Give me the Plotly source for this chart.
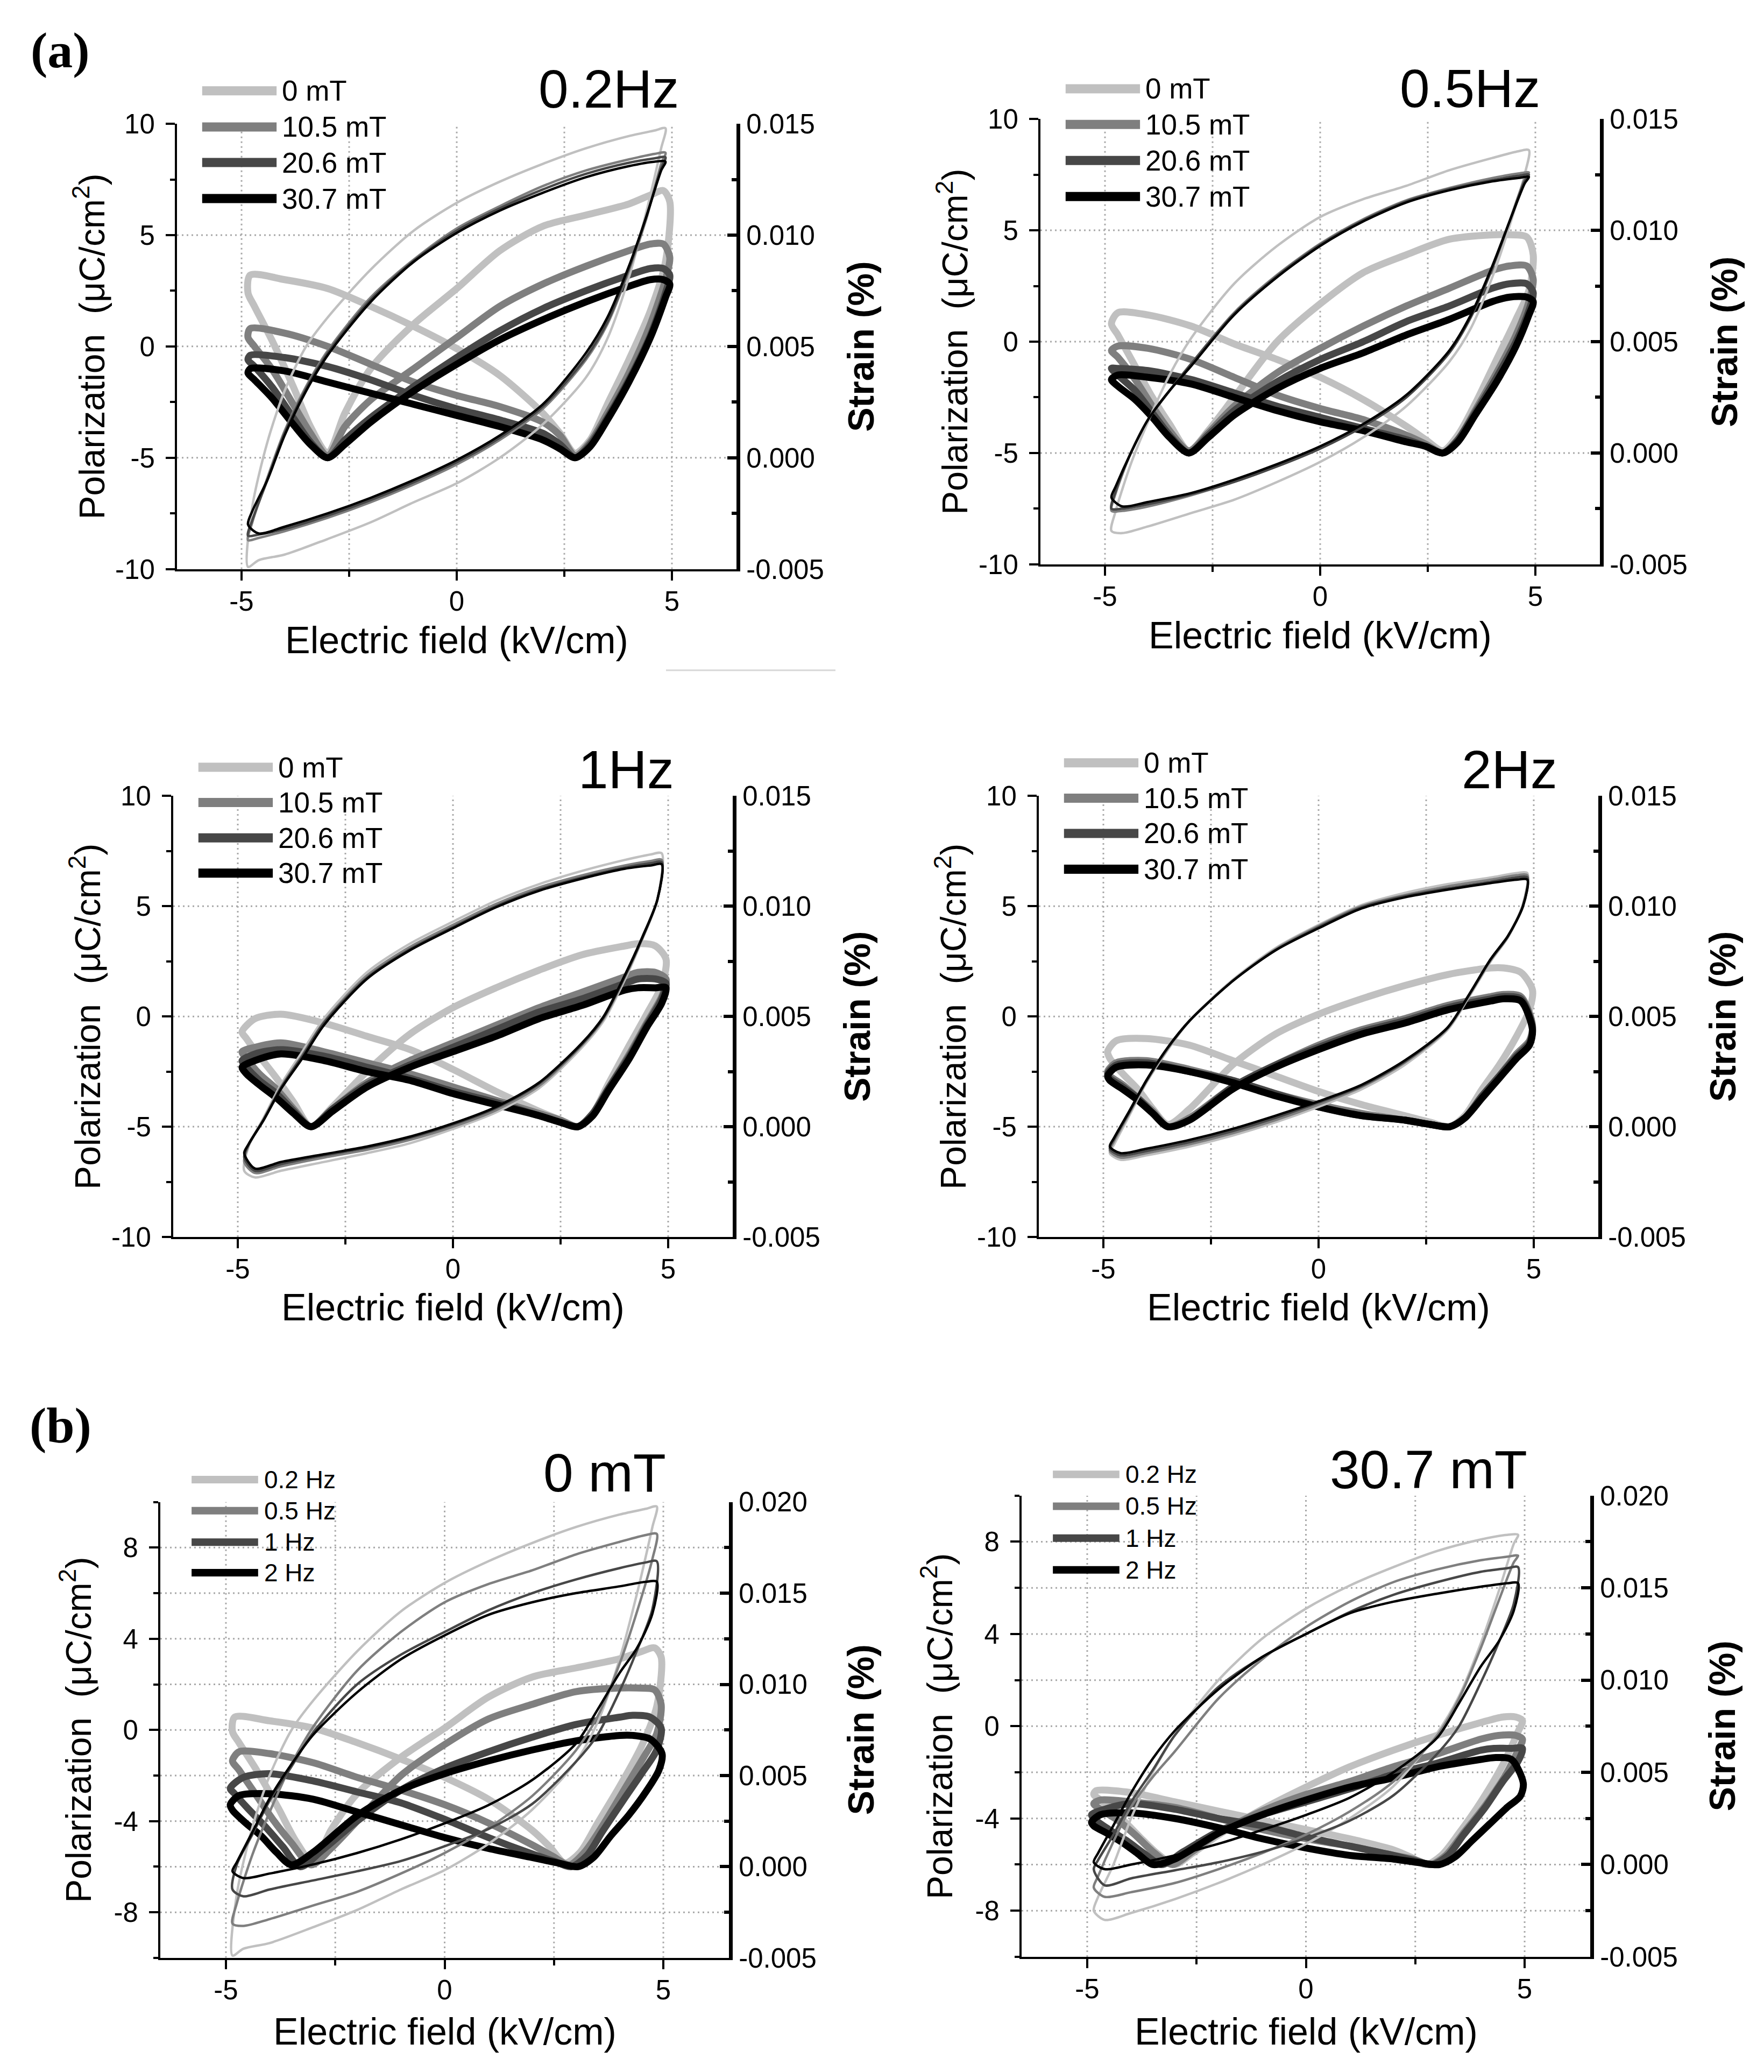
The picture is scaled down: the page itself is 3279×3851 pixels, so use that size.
"""P-E loops and strain butterflies: (a) by magnetic field at each frequency, (b) by frequency at 0 and 30.7 mT."""

import plotly.graph_objects as go

W, H = 3279, 3851

# ---------- data ----------
FIELDS = ["0 mT", "10.5 mT", "20.6 mT", "30.7 mT"]
FREQS = ["0.2 Hz", "0.5 Hz", "1 Hz", "2 Hz"]
GRAYS = ["#c0c0c0", "#7f7f7f", "#474747", "#000000"]

# P-E loops: lower branch (-E -> +E) then upper branch (+E -> -E)
E_PE = [-4.85, -4.6, -4, -3, -2, -1, 0, 1, 2, 3, 3.5, 4, 4.4, 4.75,
        4.85, 4.6, 4, 3, 2, 1, 0, -1, -2, -3, -3.5, -4, -4.4, -4.75]

PE_02HZ = {
    "0 mT":    [-9.9, -9.6, -9.35, -8.65, -7.9, -7.0, -6.15, -5.0, -3.5, -1.4, 0.35, 3.1, 6.0, 8.9,
                9.8, 9.7, 9.45, 8.9, 8.2, 7.4, 6.45, 5.2, 3.45, 1.3, 0.0, -2.0, -4.3, -7.2],
    "10.5 mT": [-8.7, -8.6, -8.3, -7.7, -7.0, -6.2, -5.3, -4.2, -2.8, -0.6, 1.0, 3.4, 5.7, 8.2,
                8.7, 8.65, 8.4, 7.9, 7.2, 6.3, 5.3, 3.9, 2.2, -0.2, -1.8, -3.8, -5.9, -7.9],
    "20.6 mT": [-8.5, -8.45, -8.2, -7.6, -6.9, -6.1, -5.2, -4.1, -2.7, -0.5, 1.1, 3.5, 5.8, 8.0,
                8.5, 8.45, 8.25, 7.75, 7.05, 6.2, 5.2, 3.85, 2.1, -0.3, -1.9, -3.9, -6.0, -7.8],
    "30.7 mT": [-8.0, -8.4, -8.1, -7.5, -6.8, -6.0, -5.1, -4.0, -2.6, -0.3, 1.3, 3.6, 5.8, 7.9,
                8.3, 8.3, 8.1, 7.6, 6.9, 6.1, 5.1, 3.8, 2.0, -0.4, -2.0, -4.0, -6.0, -7.4],
}
PE_05HZ = {
    "0 mT":    [-8.5, -8.6, -8.3, -7.7, -7.1, -6.3, -5.4, -4.3, -2.9, -0.9, 0.6, 2.9, 5.2, 7.5,
                8.6, 8.55, 8.25, 7.7, 7.0, 6.4, 5.6, 4.3, 2.6, 0.15, -1.5, -3.6, -5.5, -7.6],
    "10.5 mT": [-7.6, -7.6, -7.4, -6.9, -6.3, -5.6, -4.8, -3.8, -2.5, -0.5, 1.1, 3.3, 5.4, 7.3,
                7.6, 7.55, 7.35, 6.9, 6.35, 5.5, 4.4, 3.0, 1.3, -1.0, -2.2, -3.5, -5.0, -6.8],
    "20.6 mT": [-7.5, -7.5, -7.3, -6.85, -6.3, -5.6, -4.8, -3.8, -2.5, -0.5, 1.1, 3.3, 5.4, 7.2,
                7.5, 7.45, 7.25, 6.85, 6.3, 5.45, 4.35, 2.95, 1.25, -1.0, -2.2, -3.5, -5.0, -6.7],
    "30.7 mT": [-7.0, -7.4, -7.2, -6.8, -6.2, -5.5, -4.7, -3.7, -2.4, -0.4, 1.2, 3.4, 5.4, 7.1,
                7.4, 7.35, 7.2, 6.8, 6.25, 5.4, 4.3, 2.9, 1.2, -1.1, -2.2, -3.5, -5.0, -6.5],
}
PE_1HZ = {
    "0 mT":    [-7.0, -7.3, -7.0, -6.6, -6.2, -5.75, -5.1, -4.35, -3.25, -1.4, -0.2, 1.7, 3.5, 5.3,
                7.4, 7.35, 7.1, 6.6, 6.0, 5.25, 4.3, 3.3, 2.0, -0.1, -1.6, -3.1, -4.6, -5.9],
    "10.5 mT": [-6.6, -7.1, -6.8, -6.4, -6.05, -5.6, -5.0, -4.25, -3.15, -1.3, -0.1, 1.8, 3.55, 5.3,
                7.1, 7.05, 6.85, 6.4, 5.85, 5.1, 4.15, 3.15, 1.85, -0.25, -1.75, -3.2, -4.65, -5.85],
    "20.6 mT": [-6.4, -7.0, -6.7, -6.3, -5.95, -5.5, -4.9, -4.15, -3.05, -1.25, -0.05, 1.85, 3.55, 5.3,
                7.0, 6.95, 6.75, 6.3, 5.75, 5.0, 4.05, 3.05, 1.75, -0.3, -1.8, -3.25, -4.7, -5.8],
    "30.7 mT": [-6.2, -6.9, -6.6, -6.25, -5.9, -5.45, -4.85, -4.1, -3.0, -1.2, 0.0, 1.9, 3.6, 5.3,
                6.9, 6.85, 6.7, 6.25, 5.7, 4.95, 4.0, 3.0, 1.7, -0.4, -1.9, -3.3, -4.7, -5.8],
}
PE_2HZ = {
    "0 mT":    [-6.2, -6.5, -6.3, -5.9, -5.4, -4.8, -4.1, -3.3, -2.2, -0.6, 0.9, 2.5, 3.6, 5.1,
                6.5, 6.5, 6.3, 6.0, 5.6, 5.05, 4.15, 3.1, 1.65, -0.2, -1.5, -3.0, -4.5, -5.8],
    "10.5 mT": [-6.1, -6.4, -6.2, -5.8, -5.3, -4.7, -4.0, -3.2, -2.1, -0.55, 0.95, 2.55, 3.6, 5.05,
                6.4, 6.4, 6.2, 5.9, 5.5, 5.0, 4.1, 3.05, 1.6, -0.2, -1.45, -2.95, -4.4, -5.65],
    "20.6 mT": [-6.0, -6.3, -6.1, -5.7, -5.2, -4.6, -3.9, -3.15, -2.05, -0.5, 1.0, 2.6, 3.65, 5.0,
                6.3, 6.3, 6.1, 5.8, 5.45, 4.95, 4.05, 3.0, 1.6, -0.2, -1.4, -2.9, -4.35, -5.55],
    "30.7 mT": [-5.9, -6.2, -6.0, -5.6, -5.1, -4.5, -3.85, -3.1, -2.0, -0.5, 1.0, 2.6, 3.65, 5.0,
                6.2, 6.2, 6.05, 5.75, 5.4, 4.9, 4.0, 3.0, 1.6, -0.2, -1.4, -2.9, -4.3, -5.5],
}

# strain butterflies: rising-E branch then falling-E branch, strain in %
E_S_02HZ = [-4.8, -4, -3, -2, -1, 0, 1, 2, 2.4, 2.75, 3.1, 3.5, 4, 4.5, 4.85, 4.95,
            4.8, 4.5, 4, 3, 2, 1, 0, -1, -2, -2.6, -3, -3.4, -3.8, -4.3, -4.7, -4.85]
S_02HZ = {
    "0 mT":    [0.0082, 0.0080, 0.0076, 0.0068, 0.0059, 0.0049, 0.0037, 0.0020, 0.0011, 0.0002, 0.0008, 0.0024, 0.0044, 0.0066, 0.0088, 0.0115,
                0.0120, 0.0118, 0.0114, 0.0109, 0.0104, 0.0093, 0.0076, 0.0060, 0.0040, 0.0020, 0.0002, 0.0014, 0.0032, 0.0053, 0.0068, 0.0074],
    "10.5 mT": [0.0058, 0.0056, 0.0050, 0.0042, 0.0034, 0.0028, 0.0023, 0.0016, 0.0010, 0.0001, 0.0007, 0.0020, 0.0038, 0.0060, 0.0080, 0.0090,
                0.0096, 0.0096, 0.0093, 0.0086, 0.0078, 0.0068, 0.0054, 0.0040, 0.0026, 0.0014, 0.0001, 0.0011, 0.0024, 0.0040, 0.0050, 0.0054],
    "20.6 mT": [0.0046, 0.0045, 0.0041, 0.0035, 0.0028, 0.0022, 0.0017, 0.0011, 0.0006, 0.0000, 0.0006, 0.0018, 0.0035, 0.0055, 0.0074, 0.0082,
                0.0085, 0.0085, 0.0082, 0.0075, 0.0067, 0.0057, 0.0045, 0.0032, 0.0018, 0.0008, 0.0000, 0.0007, 0.0018, 0.0032, 0.0041, 0.0044],
    "30.7 mT": [0.0040, 0.0039, 0.0034, 0.0029, 0.0024, 0.0019, 0.0014, 0.0008, 0.0004, 0.0000, 0.0005, 0.0017, 0.0034, 0.0054, 0.0072, 0.0078,
                0.0080, 0.0080, 0.0077, 0.0070, 0.0062, 0.0053, 0.0042, 0.0030, 0.0016, 0.0006, 0.0000, 0.0006, 0.0015, 0.0027, 0.0035, 0.0038],
}
E_S_05HZ = [-4.7, -4, -3, -2, -1, 0, 1, 2, 2.45, 2.85, 3.2, 3.6, 4.1, 4.55, 4.85, 4.95,
            4.8, 4.4, 4, 3, 2, 1, 0, -1, -2, -2.6, -3.05, -3.5, -3.9, -4.3, -4.7, -4.85]
S_05HZ = {
    "0 mT":    [0.0063, 0.0062, 0.0057, 0.0049, 0.0042, 0.0034, 0.0024, 0.0012, 0.0006, 0.0001, 0.0008, 0.0022, 0.0042, 0.0060, 0.0073, 0.0089,
                0.0097, 0.0098, 0.0098, 0.0096, 0.0089, 0.0081, 0.0067, 0.0050, 0.0025, 0.0010, 0.0001, 0.0013, 0.0025, 0.0039, 0.0053, 0.0058],
    "10.5 mT": [0.0048, 0.0047, 0.0042, 0.0034, 0.0026, 0.0020, 0.0015, 0.0008, 0.0004, 0.0000, 0.0006, 0.0019, 0.0036, 0.0053, 0.0068, 0.0078,
                0.0084, 0.0084, 0.0082, 0.0074, 0.0066, 0.0057, 0.0047, 0.0036, 0.0021, 0.0009, 0.0001, 0.0010, 0.0021, 0.0033, 0.0043, 0.0046],
    "20.6 mT": [0.0038, 0.0037, 0.0033, 0.0027, 0.0021, 0.0016, 0.0011, 0.0006, 0.0003, 0.0000, 0.0006, 0.0018, 0.0034, 0.0050, 0.0064, 0.0072,
                0.0076, 0.0076, 0.0074, 0.0066, 0.0059, 0.0050, 0.0042, 0.0032, 0.0019, 0.0008, 0.0000, 0.0008, 0.0018, 0.0028, 0.0035, 0.0038],
    "30.7 mT": [0.0035, 0.0034, 0.0031, 0.0025, 0.0019, 0.0014, 0.0010, 0.0005, 0.0003, 0.0000, 0.0005, 0.0017, 0.0032, 0.0048, 0.0062, 0.0068,
                0.0070, 0.0070, 0.0068, 0.0060, 0.0053, 0.0045, 0.0038, 0.0029, 0.0017, 0.0007, 0.0000, 0.0007, 0.0016, 0.0024, 0.0030, 0.0033],
}
E_S_1HZ = [-4.6, -4, -3, -2, -1, 0, 1, 2, 2.5, 2.9, 3.25, 3.6, 4.1, 4.5, 4.85, 4.95,
           4.7, 4.3, 4, 3, 2, 1, 0, -1, -2, -2.8, -3.3, -3.7, -4.1, -4.5, -4.8, -4.9]
S_1HZ = {
    "0 mT":    [0.0049, 0.0051, 0.0047, 0.0041, 0.0035, 0.0026, 0.0016, 0.0007, 0.0003, 0.0000, 0.0006, 0.0019, 0.0037, 0.0051, 0.0064, 0.0076,
                0.0082, 0.0083, 0.0082, 0.0078, 0.0071, 0.0063, 0.0054, 0.0042, 0.0025, 0.0009, 0.0000, 0.0011, 0.0022, 0.0032, 0.0040, 0.0043],
    "10.5 mT": [0.0036, 0.0038, 0.0034, 0.0029, 0.0024, 0.0018, 0.0012, 0.0006, 0.0003, 0.0000, 0.0006, 0.0017, 0.0033, 0.0047, 0.0059, 0.0067,
                0.0070, 0.0070, 0.0068, 0.0061, 0.0054, 0.0046, 0.0038, 0.0030, 0.0020, 0.0008, 0.0000, 0.0008, 0.0017, 0.0024, 0.0031, 0.0034],
    "20.6 mT": [0.0033, 0.0035, 0.0032, 0.0027, 0.0022, 0.0016, 0.0011, 0.0005, 0.0002, 0.0000, 0.0006, 0.0017, 0.0032, 0.0046, 0.0058, 0.0065,
                0.0067, 0.0067, 0.0065, 0.0058, 0.0052, 0.0044, 0.0036, 0.0028, 0.0019, 0.0008, 0.0000, 0.0007, 0.0015, 0.0021, 0.0027, 0.0030],
    "30.7 mT": [0.0030, 0.0033, 0.0030, 0.0025, 0.0021, 0.0015, 0.0010, 0.0005, 0.0002, 0.0000, 0.0005, 0.0016, 0.0031, 0.0045, 0.0056, 0.0063,
                0.0063, 0.0063, 0.0062, 0.0055, 0.0049, 0.0041, 0.0034, 0.0027, 0.0018, 0.0007, 0.0000, 0.0006, 0.0013, 0.0019, 0.0024, 0.0027],
}
E_S_2HZ = [-4.7, -4, -3, -2, -1, 0, 1, 2, 2.6, 3.05, 3.4, 3.8, 4.2, 4.6, 4.9, 4.97,
           4.7, 4.3, 4, 3, 2, 1, 0, -1, -2, -3, -3.5, -3.85, -4.2, -4.55, -4.85, -4.9]
S_2HZ = {
    "0 mT":    [0.0039, 0.0040, 0.0037, 0.0030, 0.0023, 0.0016, 0.0010, 0.0005, 0.0002, 0.0000, 0.0005, 0.0017, 0.0028, 0.0041, 0.0053, 0.0062,
                0.0070, 0.0072, 0.0072, 0.0069, 0.0064, 0.0058, 0.0051, 0.0042, 0.0028, 0.0008, 0.0001, 0.0008, 0.0017, 0.0024, 0.0031, 0.0034],
    "10.5 mT": [0.0029, 0.0030, 0.0026, 0.0021, 0.0015, 0.0010, 0.0006, 0.0003, 0.0001, 0.0000, 0.0004, 0.0014, 0.0023, 0.0033, 0.0039, 0.0046,
                0.0059, 0.0060, 0.0059, 0.0055, 0.0049, 0.0044, 0.0037, 0.0028, 0.0018, 0.0004, 0.0000, 0.0007, 0.0013, 0.0019, 0.0023, 0.0025],
    "20.6 mT": [0.0028, 0.0029, 0.0025, 0.0021, 0.0015, 0.0009, 0.0005, 0.0003, 0.0001, 0.0000, 0.0004, 0.0014, 0.0023, 0.0032, 0.0038, 0.0045,
                0.0058, 0.0059, 0.0058, 0.0054, 0.0048, 0.0043, 0.0036, 0.0028, 0.0018, 0.0003, 0.0000, 0.0006, 0.0013, 0.0018, 0.0022, 0.0024],
    "30.7 mT": [0.0027, 0.0028, 0.0025, 0.0020, 0.0014, 0.0009, 0.0005, 0.0003, 0.0001, 0.0000, 0.0004, 0.0013, 0.0022, 0.0031, 0.0037, 0.0044,
                0.0057, 0.0058, 0.0057, 0.0053, 0.0047, 0.0042, 0.0035, 0.0027, 0.0017, 0.0003, 0.0000, 0.0006, 0.0012, 0.0017, 0.0021, 0.0023],
}

PE_SETS = [PE_02HZ, PE_05HZ, PE_1HZ, PE_2HZ]
S_SETS = [(E_S_02HZ, S_02HZ), (E_S_05HZ, S_05HZ), (E_S_1HZ, S_1HZ), (E_S_2HZ, S_2HZ)]

# ticks
X_RANGE = [-6.5, 6.5]
X_TICKS, X_TEXT, X_MINOR = [-5, 0, 5], ["-5", "0", "5"], [-2.5, 2.5]
X_GRID = [-5, -2.5, 0, 2.5, 5]
P_TICKS_A, P_TEXT_A = [-10, -5, 0, 5, 10], ["-10", "-5", "0", "5", "10"]
P_MINOR_A = [-7.5, -2.5, 2.5, 7.5]
S_TICKS_A = [-0.005, 0.0, 0.005, 0.010, 0.015]
S_TEXT_A = ["-0.005", "0.000", "0.005", "0.010", "0.015"]
S_MINOR_A = [-0.0025, 0.0025, 0.0075, 0.0125]
P_TICKS_B, P_TEXT_B = [-8, -4, 0, 4, 8], ["-8", "-4", "0", "4", "8"]
P_MINOR_B = [-10, -6, -2, 2, 6, 10]
S_TICKS_B = [-0.005, 0.0, 0.005, 0.010, 0.015, 0.020]
S_TEXT_B = ["-0.005", "0.000", "0.005", "0.010", "0.015", "0.020"]
S_MINOR_B = [-0.0025, 0.0025, 0.0075, 0.0125, 0.0175]

# ---------- panel layout (pixel boxes: left, right, top, bottom) ----------
LEG_A = (0.045, 0.178, 0.186)
LEG_B = (0.055, 0.172, 0.181)
PANELS = [
    dict(title="0.2Hz", box=(321, 1361, 197, 1037), kind="a", src=0,
         title_pos=(0.772, 1.079), leg_y=[1.074, 0.993, 0.913, 0.832]),
    dict(title="0.5Hz", box=(1926, 2966, 188, 1028), kind="a", src=1,
         title_pos=(0.768, 1.069), leg_y=[1.068, 0.988, 0.907, 0.826]),
    dict(title="1Hz", box=(314, 1354, 1465, 2297), kind="a", src=2,
         title_pos=(0.81, 1.06), leg_y=[1.065, 0.985, 0.905, 0.825]),
    dict(title="2Hz", box=(1923, 2963, 1465, 2297), kind="a", src=3,
         title_pos=(0.841, 1.06), leg_y=[1.075, 0.995, 0.915, 0.834]),
    dict(title="0 mT", box=(290, 1347, 2797, 3657), kind="b", src="0 mT",
         title_pos=(0.781, 1.065), leg_y=[1.049, 0.981, 0.912, 0.845]),
    dict(title="30.7 mT", box=(1891, 2948, 2785, 3655), kind="b", src="30.7 mT",
         title_pos=(0.716, 1.057), leg_y=[1.046, 0.977, 0.908, 0.839]),
]

FONT = "Liberation Sans, Arial, sans-serif"
GRID_COLOR = "#a8a8a8"


def closed(v):
    return list(v) + [v[0]]


def suffix(k):
    return "" if k == 1 else str(k)


fig = go.Figure()
shapes = []
annotations = []

for k, p in enumerate(PANELS, start=1):
    xa, ys, yp = f"x{suffix(k)}", f"y{suffix(k)}", f"y{k + 6}"
    is_a = p["kind"] == "a"

    # which curves go into this panel
    curves = []
    if is_a:
        e_s, s_set = S_SETS[p["src"]]
        for j, field in enumerate(FIELDS):
            curves.append((GRAYS[j], e_s, s_set[field], PE_SETS[p["src"]][field]))
        labels = FIELDS
    else:
        for j in range(4):
            e_s, s_set = S_SETS[j]
            curves.append((GRAYS[j], e_s, s_set[p["src"]], PE_SETS[j][p["src"]]))
        labels = FREQS

    for color, e_s, s_vals, _ in curves:
        fig.add_trace(go.Scatter(
            x=closed(e_s), y=closed(s_vals), mode="lines",
            line=dict(color=color, width=13, shape="spline", smoothing=0.8),
            xaxis=xa, yaxis=ys, showlegend=False, hoverinfo="skip",
        ))
    for color, _, _, p_vals in curves:
        fig.add_trace(go.Scatter(
            x=closed(E_PE), y=closed(p_vals), mode="lines",
            line=dict(color=color, width=4.5, shape="spline", smoothing=0.8),
            xaxis=xa, yaxis=yp, showlegend=False, hoverinfo="skip",
        ))

    x0, x1, y0, y1 = p["box"]
    s_range = [-0.005, 0.015] if is_a else [-0.005, 0.020]

    common = dict(showgrid=False, zeroline=False, showline=True, linecolor="black",
                  tickcolor="black", tickmode="array", fixedrange=True,
                  tickfont=dict(family=FONT, size=51, color="black"))

    fig.update_layout(**{
        f"xaxis{suffix(k)}": dict(
            domain=[x0 / W, x1 / W], anchor=ys, range=X_RANGE, linewidth=4,
            ticks="outside", ticklen=17, tickwidth=4, ticklabelstandoff=-5,
            tickvals=X_TICKS, ticktext=X_TEXT,
            minor=dict(tickmode="array", tickvals=X_MINOR, ticks="outside",
                       ticklen=10, tickwidth=4, tickcolor="black"),
            **common),
        f"yaxis{suffix(k)}": dict(
            domain=[1 - y1 / H, 1 - y0 / H], anchor=xa, side="right", range=s_range,
            linewidth=7, ticks="inside", ticklen=17, tickwidth=6, ticklabelstandoff=1,
            tickvals=S_TICKS_A if is_a else S_TICKS_B,
            ticktext=S_TEXT_A if is_a else S_TEXT_B,
            minor=dict(tickmode="array", tickvals=S_MINOR_A if is_a else S_MINOR_B,
                       ticks="inside", ticklen=9, tickwidth=6, tickcolor="black"),
            **common),
        f"yaxis{k + 6}": dict(
            overlaying=ys, anchor=xa, side="left", range=[-10, 10], linewidth=4,
            ticks="outside", ticklen=17, tickwidth=4, ticklabelstandoff=10,
            tickvals=P_TICKS_A if is_a else P_TICKS_B,
            ticktext=P_TEXT_A if is_a else P_TEXT_B,
            minor=dict(tickmode="array", tickvals=P_MINOR_A if is_a else P_MINOR_B,
                       ticks="outside", ticklen=9, tickwidth=4, tickcolor="black"),
            **common),
    })

    # dotted grid
    grid_line = dict(color=GRID_COLOR, width=3, dash="3px,6px")
    for gx in X_GRID:
        shapes.append(dict(type="line", xref=xa, yref=yp, x0=gx, x1=gx, y0=-10, y1=10,
                           line=grid_line, layer="below"))
    for gy in (P_TICKS_A[1:-1] if is_a else P_TICKS_B):
        shapes.append(dict(type="line", xref=xa, yref=yp, x0=X_RANGE[0], x1=X_RANGE[1],
                           y0=gy, y1=gy, line=grid_line, layer="below"))
    if not is_a:
        for gs in S_TICKS_B[1:-1]:
            shapes.append(dict(type="line", xref=xa, yref=ys, x0=X_RANGE[0], x1=X_RANGE[1],
                               y0=gs, y1=gs, line=grid_line, layer="below"))

    # hand-drawn legend
    lx0, lx1, ltx = LEG_A if is_a else LEG_B
    for j, (label, ly) in enumerate(zip(labels, p["leg_y"])):
        shapes.append(dict(type="line", xref=f"{xa} domain", yref=f"{ys} domain",
                           x0=lx0, x1=lx1, y0=ly, y1=ly,
                           line=dict(color=GRAYS[j], width=17 if is_a else 14)))
        annotations.append(dict(xref=f"{xa} domain", yref=f"{ys} domain", x=ltx, y=ly,
                                text=label, showarrow=False, xanchor="left", yanchor="middle",
                                font=dict(family=FONT, size=53 if is_a else 46, color="black")))

    # panel title and axis titles
    tx, ty = p["title_pos"]
    centred = dict(xref=f"{xa} domain", yref=f"{ys} domain", showarrow=False,
                   xanchor="center", yanchor="middle")
    annotations.append(dict(x=tx, y=ty, text=p["title"],
                            font=dict(family=FONT, size=100, color="black"), **centred))
    annotations.append(dict(x=0.5, y=-0.16 if is_a else -0.162, text="Electric field (kV/cm)",
                            font=dict(family=FONT, size=70, color="black"), **centred))
    annotations.append(dict(x=-0.157 if is_a else -0.148, y=0.5,
                            text="Polarization\u00a0 (\u03bcC/cm<sup>2</sup>)", textangle=-90,
                            font=dict(family=FONT, size=66, color="black"), **centred))
    annotations.append(dict(x=1.222 if is_a else 1.232, y=0.5, text="<b>Strain (%)</b>",
                            textangle=-90, font=dict(family=FONT, size=68, color="black"),
                            **centred))

# part labels
for text, ypx in (("(a)", 58), ("(b)", 2652)):
    annotations.append(dict(xref="paper", yref="paper", x=104 / W, y=1 - ypx / H,
                            text=f"<b>{text}</b>", showarrow=False,
                            xanchor="center", yanchor="middle",
                            font=dict(family="Liberation Serif, Times New Roman, serif",
                                      size=94, color="black")))

# faint stray frame line between the top panels
shapes.append(dict(type="line", xref="paper", yref="paper", x0=1230 / W, x1=1545 / W,
                   y0=1 - 1228 / H, y1=1 - 1228 / H, line=dict(color="#d8d8d8", width=3)))

fig.update_layout(
    width=W, height=H,
    margin=dict(l=0, r=0, t=0, b=0),
    paper_bgcolor="white", plot_bgcolor="white",
    showlegend=False,
    shapes=shapes, annotations=annotations,
)

fig.write_html("out.html")
